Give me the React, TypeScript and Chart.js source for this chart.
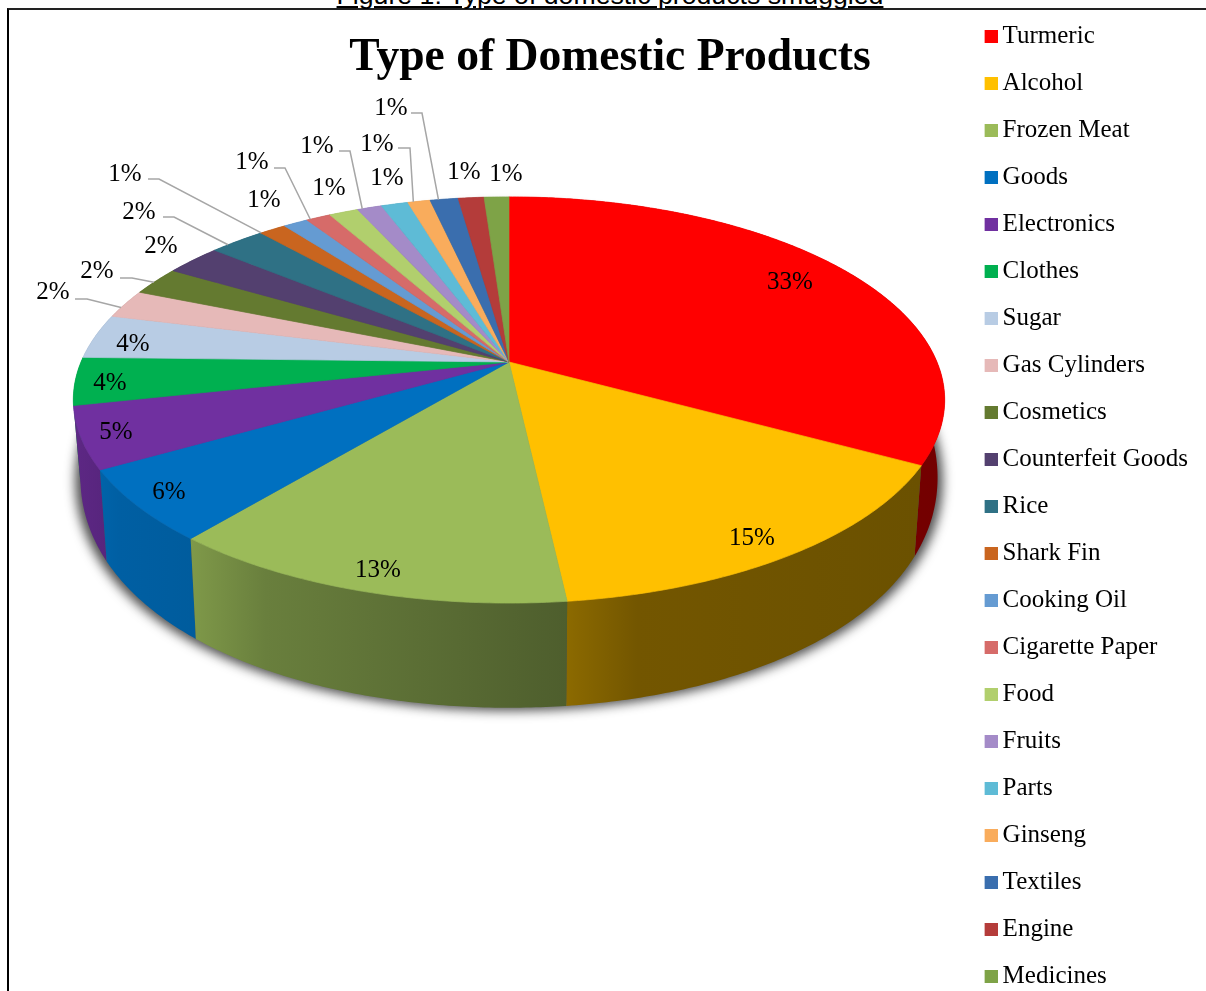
import React, { useEffect, useRef } from "react";
import { Chart, registerables } from "chart.js";

Chart.register(...registerables);

const categories = ["Turmeric","Alcohol","Frozen Meat","Goods","Electronics","Clothes","Sugar","Gas Cylinders","Cosmetics","Counterfeit Goods","Rice","Shark Fin","Cooking Oil","Cigarette Paper","Food","Fruits","Parts","Ginseng","Textiles","Engine","Medicines"];
const shares = [33.0,15.25,12.75,5.7,4.9,3.8,3.55,2.3,2.3,2.49,2.49,1.2,1.1,1.1,1.3,1.1,1.2,1.0,1.25,1.15,1.1];
const sliceColors = ["#FF0000","#FFC000","#9BBB59","#0070C0","#7030A0","#00B050","#B8CCE4","#E6B9B8","#647A30","#53406F","#2F7185","#C9651F","#659BD2","#D66B69","#B1CF6D","#A48BC8","#5EBBD6","#F9AC5C","#3A6EAE","#B43C3A","#7EA347"];
const chartTitle = "Type of Domestic Products";
const captionText = "Figure 1: Type of domestic products smuggled";

// Label layout (label centre, optional leader: start, knee, fraction along the slice's rim)
const labelPlacement: any[] = [
  { at: [790, 280] }, { at: [752, 536] }, { at: [378, 568] }, { at: [169, 490] }, { at: [116, 430] },
  { at: [110, 381] }, { at: [133, 342] },
  { at: [53, 290], lead: [75, 87, 299, 0.35] },
  { at: [97, 269], lead: [120, 132, 278, 0.45] },
  { at: [161, 244] },
  { at: [139, 210], lead: [163, 174, 217, 0.3] },
  { at: [125, 172], lead: [148, 159, 179, 0.02] },
  { at: [264, 198] },
  { at: [252, 160], lead: [274, 285, 168, 0.15] },
  { at: [329, 186] },
  { at: [317, 144], lead: [339, 350, 151, 0.2] },
  { at: [387, 176] },
  { at: [377, 142], lead: [398, 410, 148, 0.25] },
  { at: [391, 106], lead: [411, 422, 113, 0.3] },
  { at: [464, 170] },
  { at: [506, 172] },
];
// Left, near-left and right brightness of each slice's outer wall
const wallShade: Record<number, number[]> = { 0: [0.6, 0.5, 0.45], 1: [0.55, 0.45, 0.42], 2: [0.82, 0.68, 0.5], 3: [0.88, 0.85, 0.82], 4: [0.85, 0.82, 0.78] };

const SERIF = "'Liberation Serif', serif";
const K = 0.187;
const top3d = (u: number, v: number) => { const d = 1 - K * v; return [509 + (428 * u) / d, 362 + (196 * v) / d]; };
const bottom3d = (u: number, v: number) => [509 + (421 * u) / (1 - K * v), 430 + (250 * v) / (1 - 0.1 * v)];
const uv = (a: number) => [Math.cos(a), Math.sin(a)];

function shade(hex: string, f: number) {
  const n = parseInt(hex.slice(1), 16);
  return `rgb(${Math.round(((n >> 16) & 255) * f)},${Math.round(((n >> 8) & 255) * f)},${Math.round((n & 255) * f)})`;
}
function rim(a0: number, a1: number, map: (u: number, v: number) => number[]) {
  const pts: number[][] = [];
  const steps = Math.max(2, Math.ceil((a1 - a0) / 0.01));
  for (let i = 0; i <= steps; i++) { const [u, v] = uv(a0 + ((a1 - a0) * i) / steps); pts.push(map(u, v)); }
  return pts;
}
function path(ctx: CanvasRenderingContext2D, pts: number[][]) {
  ctx.beginPath();
  pts.forEach((p, i) => (i ? ctx.lineTo(p[0], p[1]) : ctx.moveTo(p[0], p[1])));
  ctx.closePath();
}

const pie3d = {
  id: "pie3d",
  beforeDatasetDraw() { return false; },
  beforeDatasetsDraw(chart: any) {
    const ctx: CanvasRenderingContext2D = chart.ctx;
    const arcs = chart.getDatasetMeta(0).data;
    ctx.save();
    // soft shadow beneath the disc: only the blurred shadow of an off-canvas copy lands on the page
    ctx.save();
    ctx.shadowColor = "rgba(20,20,20,0.75)";
    ctx.shadowBlur = 11;
    ctx.shadowOffsetX = 3000;
    ctx.shadowOffsetY = 3;
    ctx.fillStyle = "#000";
    path(ctx, rim(0, Math.PI * 2, (u, v) => { const p = bottom3d(u, v); return [509 + (p[0] - 509) * 1.012 - 3000, p[1]]; }));
    ctx.fill();
    ctx.restore();
    (ctx as any).filter = "blur(0.6px)";
    // outer walls, back to front
    const order = arcs.map((_: any, i: number) => i).sort((a: number, b: number) =>
      Math.sin((arcs[a].startAngle + arcs[a].endAngle) / 2) - Math.sin((arcs[b].startAngle + arcs[b].endAngle) / 2));
    order.forEach((i: number) => {
      const { startAngle: s, endAngle: e } = arcs[i];
      const t = rim(s, e, top3d), b = rim(s, e, bottom3d).reverse();
      const all = t.concat(b);
      const xs = all.map((p) => p[0]);
      const x0 = Math.min(...xs), x1 = Math.max(...xs);
      const g = ctx.createLinearGradient(x0, 0, x1, 0);
      const sh = wallShade[i] || [0.7, 0.7, 0.7];
      g.addColorStop(0, shade(sliceColors[i], sh[0]));
      g.addColorStop(0.2, shade(sliceColors[i], sh[1]));
      g.addColorStop(1, shade(sliceColors[i], sh[2]));
      ctx.fillStyle = g;
      path(ctx, all);
      ctx.fill();
    });
    // top surface
    arcs.forEach((arc: any, i: number) => {
      const pts = [top3d(0, 0), ...rim(arc.startAngle, arc.endAngle, top3d)];
      ctx.fillStyle = sliceColors[i];
      ctx.strokeStyle = sliceColors[i];
      ctx.lineWidth = 0.7;
      path(ctx, pts);
      ctx.fill();
      ctx.stroke();
    });
    (ctx as any).filter = "none";
    // leaders and percentage labels
    const total = shares.reduce((a, b) => a + b, 0);
    ctx.font = `25px ${SERIF}`;
    ctx.textAlign = "center";
    ctx.textBaseline = "middle";
    arcs.forEach((arc: any, i: number) => {
      const place = labelPlacement[i];
      if (place.lead) {
        const [x0, x1, y, f] = place.lead;
        const [u, v] = uv(arc.startAngle + (arc.endAngle - arc.startAngle) * f);
        const end = top3d(u, v);
        ctx.strokeStyle = "#A6A6A6";
        ctx.lineWidth = 1.5;
        ctx.beginPath();
        ctx.moveTo(x0, y);
        ctx.lineTo(x1, y);
        ctx.lineTo(end[0], end[1]);
        ctx.stroke();
      }
      ctx.fillStyle = "#000";
      ctx.fillText(`${Math.round((shares[i] / total) * 100)}%`, place.at[0], place.at[1] + 2);
    });
    ctx.restore();
  },
};

function swatch(color: string) {
  const c = document.createElement("canvas");
  c.width = 16;
  c.height = 13;
  const x = c.getContext("2d")!;
  x.fillStyle = color;
  x.fillRect(3, 0, 13, 13);
  return c;
}

export default function App() {
  const ref = useRef<HTMLCanvasElement>(null);
  useEffect(() => {
    const chart = new Chart(ref.current!, {
      type: "pie",
      data: { labels: categories, datasets: [{ data: shares, backgroundColor: sliceColors, borderWidth: 0 }] },
      plugins: [pie3d],
      options: {
        responsive: false,
        animation: false,
        layout: { padding: { left: 22, right: 8, top: 1.5, bottom: 0 } },
        plugins: {
          tooltip: { enabled: false },
          title: {
            display: true,
            text: chartTitle,
            color: "#000",
            font: { family: SERIF, size: 45.6, weight: "bold" },
            padding: { top: 29, bottom: 10 },
          },
          legend: {
            position: "right",
            align: "start",
            labels: {
              color: "#000",
              font: { family: SERIF, size: 25 },
              padding: 22,
              usePointStyle: true,
              boxWidth: 1,
              pointStyleWidth: 1,
              generateLabels: (c: any) =>
                (Chart as any).overrides.doughnut.plugins.legend.labels.generateLabels(c).map((l: any, i: number) => ({
                  ...l,
                  pointStyle: swatch(sliceColors[i]),
                })),
            },
          },
        },
      } as any,
    } as any);
    return () => chart.destroy();
  }, []);
  return (
    <div style={{ position: "fixed", inset: 0, overflow: "hidden", background: "#fff" }}>
      <div style={{ position: "absolute", left: 7, top: 8, width: 1300, height: 1100, borderLeft: "2px solid #000", borderTop: "2px solid #222" }} />
      <div style={{ position: "absolute", left: 0, width: 1220, top: -19, textAlign: "center", font: "26.7px/28px 'Liberation Sans', Arial, sans-serif", color: "#000", textDecoration: "underline" }}>{captionText}</div>
      <canvas ref={ref} width={1206} height={1040} style={{ position: "absolute", left: 0, top: 0, display: "block" }} />
    </div>
  );
}
